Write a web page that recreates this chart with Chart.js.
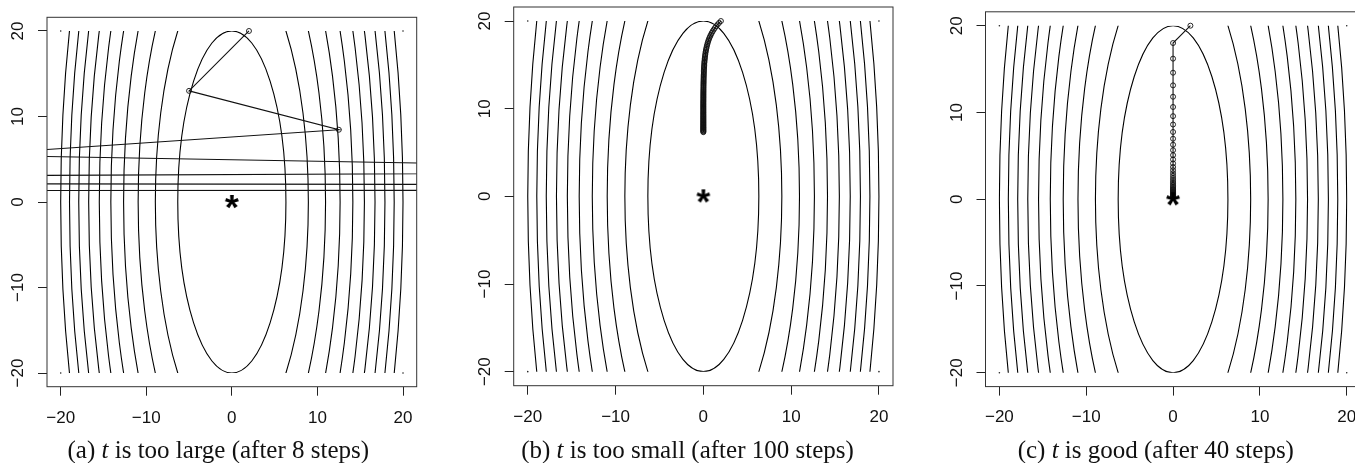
<!DOCTYPE html>
<html><head><meta charset="utf-8">
<script src="https://cdn.jsdelivr.net/npm/chart.js@4.4.1/dist/chart.umd.min.js"></script>
<style>
html,body{margin:0;padding:0;background:#fff;overflow:hidden;width:1355px;height:463px;position:relative;}
canvas{position:absolute;top:0;}
.cap{position:absolute;top:437px;width:500px;text-align:center;font-family:"Liberation Serif","Times New Roman",serif;font-size:25px;line-height:25px;color:#111;white-space:nowrap;}
</style></head><body>
<canvas id="ca" width="440" height="463" style="left:0px"></canvas>
<canvas id="cb" width="455" height="463" style="left:450px"></canvas>
<canvas id="cc" width="460" height="463" style="left:910px"></canvas>
<div class="cap" id="capa" style="left:-31.7px"></div>
<div class="cap" id="capb" style="left:437.5px"></div>
<div class="cap" id="capc" style="left:905.8px"></div>
<script>
// ---------- data ----------
const xTicks = [-20, -10, 0, 10, 20];
const yTicks = [-20, -10, 0, 10, 20];
const axisRange = [-21.6, 21.6];
const gridRange = [-20, 20];
const contourCenter = [0, 0];
const contourHalfWidth  = [6.32, 8.94, 10.95, 12.65, 14.14, 15.49, 16.73, 17.89, 18.97, 20.0];
const contourHalfHeight = [20.0, 28.28, 34.64, 40.0, 44.72, 48.99, 52.92, 56.57, 60.0, 63.25];
const cornerX = [-20, 20, -20, 20];
const cornerY = [20, 20, -20, -20];
const starX = [0];
const starY = [0];

const pathAX = [2, -5, 12.5, -31.25, 78.13, -195.31, 488.28, -1220.7];
const pathAY = [20, 13, 8.45, 5.49, 3.57, 2.32, 1.51, 0.98];

const pathBX = [2, 1.8, 1.62, 1.458, 1.312, 1.181, 1.063, 0.957, 0.861, 0.775,
  0.697, 0.628, 0.565, 0.508, 0.458, 0.412, 0.371, 0.334, 0.300, 0.270,
  0.243, 0.219, 0.197, 0.177, 0.160, 0.144, 0.129, 0.116, 0.105, 0.094,
  0.085, 0.076, 0.069, 0.062, 0.056, 0.050, 0.045, 0.041, 0.036, 0.033,
  0.030, 0.027, 0.024, 0.022, 0.019, 0.017, 0.016, 0.014, 0.013, 0.011,
  0.010, 0.009, 0.008, 0.007, 0.006, 0.006, 0.005, 0.005, 0.004, 0.004,
  0.004, 0, 0, 0, 0, 0, 0, 0, 0, 0,
  0, 0, 0, 0, 0, 0, 0, 0, 0, 0,
  0, 0, 0, 0, 0, 0, 0, 0, 0, 0,
  0, 0, 0, 0, 0, 0, 0, 0, 0, 0, 0];
const pathBY = [20, 19.8, 19.6, 19.41, 19.21, 19.02, 18.83, 18.64, 18.45, 18.27,
  18.09, 17.91, 17.73, 17.55, 17.37, 17.2, 17.03, 16.86, 16.69, 16.52,
  16.36, 16.19, 16.03, 15.87, 15.71, 15.56, 15.4, 15.25, 15.09, 14.94,
  14.79, 14.65, 14.5, 14.35, 14.21, 14.07, 13.93, 13.79, 13.65, 13.51,
  13.38, 13.25, 13.11, 12.98, 12.85, 12.72, 12.6, 12.47, 12.35, 12.22,
  12.1, 11.98, 11.86, 11.74, 11.62, 11.51, 11.39, 11.28, 11.17, 11.05,
  10.94, 10.83, 10.73, 10.62, 10.51, 10.41, 10.3, 10.2, 10.1, 10.0,
  9.9, 9.8, 9.7, 9.6, 9.51, 9.41, 9.32, 9.22, 9.13, 9.04,
  8.95, 8.86, 8.77, 8.68, 8.6, 8.51, 8.43, 8.34, 8.26, 8.18,
  8.09, 8.01, 7.93, 7.85, 7.78, 7.7, 7.62, 7.54, 7.47, 7.39, 7.32];

const pathCX = [2, 0, 0, 0, 0, 0, 0, 0, 0, 0, 0, 0, 0, 0, 0, 0, 0, 0, 0, 0,
  0, 0, 0, 0, 0, 0, 0, 0, 0, 0, 0, 0, 0, 0, 0, 0, 0, 0, 0, 0, 0];
const pathCY = [20, 18, 16.2, 14.58, 13.12, 11.81, 10.63, 9.57, 8.61, 7.75,
  6.97, 6.28, 5.65, 5.08, 4.58, 4.12, 3.71, 3.34, 3.00, 2.70,
  2.43, 2.19, 1.97, 1.77, 1.59, 1.44, 1.29, 1.16, 1.05, 0.94,
  0.85, 0.76, 0.69, 0.62, 0.56, 0.50, 0.45, 0.41, 0.36, 0.33, 0.30];

const captionLabels = ['(a)', '(b)', '(c)'];
const captionRest = ['is too large (after 8 steps)', 'is too small (after 100 steps)', 'is good (after 40 steps)'];

// ---------- helpers ----------
const SANS = '"Liberation Sans", Arial, Helvetica, sans-serif';
const TICK_PX = 17;
const fmt = v => (v < 0 ? '\u2212' + Math.abs(v) : String(v));
const pts = (xs, ys) => xs.map((x, i) => ({ x: x, y: ys[i] }));

function makeStar(widthPx) {
  const c = document.createElement('canvas');
  c.width = 24; c.height = 24;
  const g = c.getContext('2d');
  g.font = 'bold 100px ' + SANS;
  let m = g.measureText('*');
  const w100 = m.actualBoundingBoxLeft + m.actualBoundingBoxRight;
  const size = 100 * widthPx / w100;
  g.font = 'bold ' + size + 'px ' + SANS;
  m = g.measureText('*');
  g.fillStyle = '#000';
  g.textAlign = 'left'; g.textBaseline = 'alphabetic';
  const gx = c.width / 2 - (m.actualBoundingBoxRight - m.actualBoundingBoxLeft) / 2;
  const gy = c.height / 2 + (m.actualBoundingBoxAscent - m.actualBoundingBoxDescent) / 2;
  g.fillText('*', gx, gy);
  return c;
}
const starImg = makeStar(14);

const framePlugin = {
  id: 'frame',
  beforeDatasetsDraw(chart) {
    const { ctx, scales: { x, y } } = chart;
    const gx0 = x.getPixelForValue(gridRange[0]), gx1 = x.getPixelForValue(gridRange[1]);
    const gy0 = y.getPixelForValue(gridRange[1]), gy1 = y.getPixelForValue(gridRange[0]);
    ctx.save();
    ctx.beginPath(); ctx.rect(gx0 - 1, gy0, gx1 - gx0 + 2, gy1 - gy0); ctx.clip();
    const cx = x.getPixelForValue(contourCenter[0]), cy = y.getPixelForValue(contourCenter[1]);
    ctx.strokeStyle = '#000'; ctx.lineWidth = 1.1;
    for (let i = 0; i < contourHalfWidth.length; i++) {
      const rx = x.getPixelForValue(contourCenter[0] + contourHalfWidth[i]) - cx;
      const ry = cy - y.getPixelForValue(contourCenter[1] + contourHalfHeight[i]);
      ctx.beginPath(); ctx.ellipse(cx, cy, rx, ry, 0, 0, Math.PI * 2); ctx.stroke();
    }
    ctx.restore();
  },
  afterDatasetsDraw(chart) {
    const { ctx, chartArea: a, scales: { y } } = chart;
    ctx.save();
    ctx.strokeStyle = '#333'; ctx.lineWidth = 1;
    ctx.strokeRect(a.left, a.top, a.right - a.left, a.bottom - a.top);
    ctx.fillStyle = '#111'; ctx.font = TICK_PX + 'px ' + SANS;
    ctx.textAlign = 'center'; ctx.textBaseline = 'middle';
    yTicks.forEach(v => {
      const py = y.getPixelForValue(v);
      ctx.save(); ctx.translate(a.left - 28.5, py); ctx.rotate(-Math.PI / 2);
      ctx.fillText(fmt(v), 0, 0); ctx.restore();
    });
    ctx.restore();
  }
};

const Y_AXIS_W = 40, X_AXIS_H = 50, H = 463;

function makePanel(id, canvasLeft, W, L, R, T, B, pathX, pathY) {
  const lineDs = {
    data: pts(pathX, pathY), showLine: true, borderColor: '#111', borderWidth: 1.1,
    pointStyle: 'circle', pointRadius: 2.5, pointBorderWidth: 0.9, pointBorderColor: '#111',
    pointBackgroundColor: 'rgba(0,0,0,0)', clip: 0, order: 2
  };
  const cornerDs = {
    data: pts(cornerX, cornerY), showLine: false, pointRadius: 0.8, pointBorderWidth: 0,
    pointBackgroundColor: '#222', clip: 0, order: 3
  };
  const starDs = {
    data: pts(starX, starY), showLine: false, pointStyle: starImg, pointRadius: 7, clip: 0, order: 1
  };
  return new Chart(document.getElementById(id), {
    type: 'scatter',
    data: { datasets: [cornerDs, lineDs, starDs] },
    options: {
      responsive: false, animation: false, devicePixelRatio: 1,
      layout: { autoPadding: false, padding: { left: L - canvasLeft - Y_AXIS_W, right: canvasLeft + W - R, top: T, bottom: H - B - X_AXIS_H } },
      plugins: { legend: { display: false }, tooltip: { enabled: false } },
      scales: {
        x: {
          type: 'linear', min: axisRange[0], max: axisRange[1],
          afterBuildTicks: s => { s.ticks = xTicks.map(v => ({ value: v })); },
          afterFit: s => { s.height = X_AXIS_H; },
          ticks: { callback: v => fmt(v), font: { size: TICK_PX, family: SANS }, color: '#111', padding: 12, maxRotation: 0, autoSkip: false },
          grid: { drawOnChartArea: false, drawTicks: true, tickLength: 9, color: '#222', lineWidth: 1 },
          border: { display: false }
        },
        y: {
          type: 'linear', min: axisRange[0], max: axisRange[1],
          afterBuildTicks: s => { s.ticks = yTicks.map(v => ({ value: v })); },
          afterFit: s => { s.width = Y_AXIS_W; },
          ticks: { display: false },
          grid: { drawOnChartArea: false, drawTicks: true, tickLength: 9, color: '#222', lineWidth: 1 },
          border: { display: false }
        }
      }
    },
    plugins: [framePlugin]
  });
}

makePanel('ca', 0, 440, 47, 416.7, 17.3, 386.7, pathAX, pathAY);
makePanel('cb', 450, 455, 513.7, 893, 7, 385.7, pathBX, pathBY);
makePanel('cc', 910, 460, 985.5, 1360.6, 11.8, 386.6, pathCX, pathCY);

['capa', 'capb', 'capc'].forEach((id, i) => {
  const el = document.getElementById(id);
  el.innerHTML = captionLabels[i] + ' <i>t</i> ' + captionRest[i];
});
</script>
</body></html>
